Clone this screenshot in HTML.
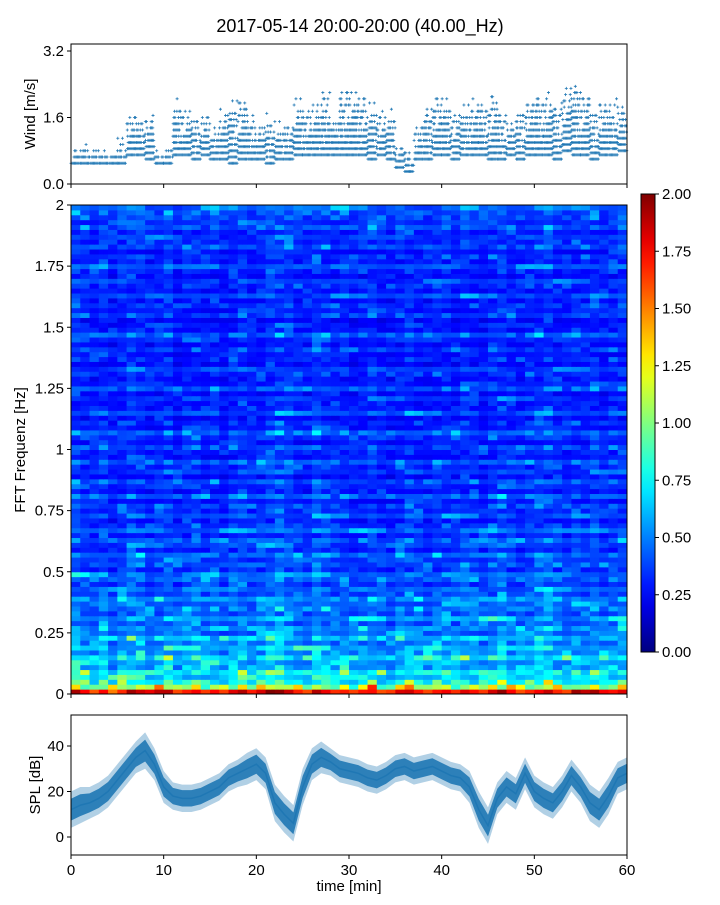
<!DOCTYPE html>
<html><head><meta charset="utf-8"><style>
body{margin:0;background:#fff;}
svg text{font-family:"Liberation Sans","DejaVu Sans",sans-serif;fill:#000;}
</style></head><body>
<svg id="fig" width="720" height="900" xmlns="http://www.w3.org/2000/svg">
<text x="360" y="32" font-size="18" text-anchor="middle">2017-05-14 20:00-20:00 (40.00_Hz)</text>
<g id="wind"></g>
<g id="spec"></g>
<g id="cbar"></g>
<g id="spl"></g>
</svg>
<script>
// ---------- data ----------
const timeTicks=[0,10,20,30,40,50,60];
const windTicks=[0.0,1.6,3.2];
const windTickLabels=["0.0","1.6","3.2"];
const windLo=[.5,.5,.5,.5,.5,.5,.7,.7,.6,.5,.5,.7,.7,.6,.7,.6,.6,.5,.6,.6,.6,.5,.6,.6,.7,.7,.7,.7,.7,.7,.7,.7,.6,.7,.6,.4,.3,.6,.6,.7,.7,.6,.7,.7,.7,.6,.6,.7,.6,.7,.7,.7,.6,.8,.7,.7,.6,.7,.7,.8];
const windHi=[.9,1.0,.9,.9,.9,1.2,1.9,1.8,1.9,.9,1.0,2.2,2.0,1.8,1.9,1.5,2.0,2.3,2.3,1.9,1.6,1.8,1.6,1.7,2.2,2.1,2.2,2.5,1.8,2.6,2.5,2.4,2.2,2.0,1.9,1.0,.9,1.6,2.1,2.4,2.3,2.0,2.1,2.3,2.2,2.5,2.0,1.6,2.0,2.3,2.5,2.5,2.2,2.6,2.8,2.5,2.0,2.2,2.2,2.1];
const freqTicks=[0,0.25,0.5,0.75,1,1.25,1.5,1.75,2];
const freqTickLabels=["0","0.25","0.5","0.75","1","1.25","1.5","1.75","2"];
const specRows=[1.75,1.1,0.8,0.7,0.78,0.6,0.58,0.72,0.55,0.62,0.5,0.64,0.47,0.55,0.44,0.58,0.42,0.5,0.46,0.55,
0.4,0.47,0.36,0.45,0.5,0.34,0.42,0.38,0.48,0.32,0.4,0.44,0.31,0.47,0.36,0.29,0.42,0.34,0.39,0.3,
0.45,0.29,0.34,0.41,0.27,0.38,0.33,0.44,0.29,0.32,0.4,0.28,0.35,0.47,0.3,0.33,0.26,0.42,0.31,0.29,
0.36,0.27,0.43,0.31,0.28,0.34,0.39,0.26,0.32,0.29,0.37,0.27,0.33,0.45,0.29,0.31,0.25,0.38,0.3,0.35,
0.28,0.41,0.29,0.33,0.37,0.27,0.32,0.43,0.3,0.35,0.29,0.4,0.33,0.37,0.31,0.42,0.35,0.39,0.41,0.46];
const specCols=[1.1,1.0,0.95,1.05,0.9,1.0,1.1,1.05,0.95,1.0,1.08,0.92,1.0,1.04,0.96,1.02,0.9,1.0,1.06,0.95,
1.0,1.1,1.15,1.08,1.0,0.95,1.12,1.05,0.98,1.0,0.92,0.97,1.03,0.95,0.9,1.0,1.05,0.98,0.94,1.0,
1.02,0.96,1.05,1.0,0.93,1.04,1.1,0.98,0.95,1.0,1.06,1.12,1.0,0.96,1.02,0.98,1.04,0.95,1.0,1.05];
const specTexture=[1.0,0.6,1.3,0.8,1.9,0.7,1.1,0.5,1.4,0.9,0.65,1.6,0.75,1.2,0.55,1.0,2.1,0.7,0.85,1.35,0.6,1.05,0.8,1.5,0.7,0.95,1.25,0.5,1.75,0.9,0.65,1.1,0.8,1.45,0.6,1.0,0.85];
const cbarTicks=[0,0.25,0.5,0.75,1,1.25,1.5,1.75,2];
const cbarTickLabels=["0.00","0.25","0.50","0.75","1.00","1.25","1.50","1.75","2.00"];
const splTicks=[0,20,40];
const splMean=[12,14,15,17,20,25,30,35,38,32,22,18,17,17,18,20,22,26,28,30,32,28,15,10,6,22,32,35,33,30,29,28,26,25,27,30,31,29,30,31,29,27,26,22,12,5,17,22,19,28,20,17,15,20,27,22,15,12,18,26,28];
const splSpread=[8,8,7,7,7,7,7,7,8,7,7,6,6,6,6,6,6,6,6,7,7,7,8,8,8,8,7,7,6,6,6,6,6,6,6,6,6,6,6,6,6,6,6,7,8,8,7,7,7,7,7,7,7,7,7,7,8,8,8,7,7];
</script>
<script>
const NS="http://www.w3.org/2000/svg";
function mk(parent,tag,attrs,text){const e=document.createElementNS(NS,tag);for(const k in attrs)e.setAttribute(k,attrs[k]);if(text!==undefined)e.textContent=text;parent.appendChild(e);return e;}
const X0=71,X1=627;
const xs=t=>X0+(X1-X0)*t/60;
function jet(v){v=Math.max(0,Math.min(1,v));
 const f=x=>Math.max(0,Math.min(1,x));
 const r=f(1.5-Math.abs(4*v-3)),g=f(1.5-Math.abs(4*v-2)),b=f(1.5-Math.abs(4*v-1));
 return `rgb(${Math.round(r*255)},${Math.round(g*255)},${Math.round(b*255)})`;}
function frame(g,y0,y1){const r=mk(g,'rect',{x:X0,y:y0,width:X1-X0,height:y1-y0,fill:'none',stroke:'#000','stroke-width':1});}
function xticks(g,y1,labels){timeTicks.forEach(t=>{const x=xs(t);mk(g,'line',{x1:x,x2:x,y1:y1,y2:y1+4,stroke:'#000'});
 if(labels){const tx=mk(g,'text',{x:x,y:y1+20,'font-size':15,'text-anchor':'middle'},String(t));}});}
function ylabel(g,x,y,s){const t=mk(g,'text',{x:x,y:y,'font-size':15,'text-anchor':'middle',transform:`rotate(-90 ${x} ${y})`},s);}

// ---- wind ----
(function(){const g=document.getElementById('wind');const Y0=44,Y1=184;const ys=v=>Y1-v*(184-51)/3.2;
 for(let m=0;m<60;m++){for(let k=0;k<8;k++){
  let li=0;
  for(let v=windLo[m];v<=windHi[m]+1e-6;v+=0.15,li++){
   const frac=(v-windLo[m])/Math.max(0.2,windHi[m]-windLo[m]);
   const tv=specTexture[(m*5+k*3+li*7)%specTexture.length];
   if(tv*(1.2-frac)<0.55) continue;
   const x=xs(m+(k+((li*3+m)%5)/5)/8);
   const p=mk(g,'path',{d:`M${x-1.5},${ys(v)}h3M${x},${ys(v)-1.5}v3`,stroke:'#1f77b4','stroke-width':0.8});
   }}}
 frame(g,Y0,Y1);xticks(g,Y1,false);
 windTicks.forEach((v,i)=>{const y=ys(v);mk(g,'line',{x1:X0-4,x2:X0,y1:y,y2:y,stroke:'#000'});
  const t=mk(g,'text',{x:X0-7,y:y+5,'font-size':15,'text-anchor':'end'},windTickLabels[i]);});
 ylabel(g,35,114,'Wind [m/s]');})();

// ---- spectrogram ----
(function(){const g=document.getElementById('spec');const Y0=205,Y1=694;const ys=f=>Y1-(Y1-Y0)*f/2;
 const nr=specRows.length,nc=specCols.length*2;const df=2/nr;const T=specTexture.length;
 for(let i=0;i<nr;i++)for(let j=0;j<nc;j++){
  let tex=specTexture[(i*13+(j>>2)*7+((i*(j>>1))%3))%T];
  tex=i<1?0.9+0.1*tex:0.55+0.45*tex;
  const v=specRows[i]*specCols[j>>1]*tex;
  const r=mk(g,'rect',{x:xs(j*60/nc),y:ys((i+1)*df),width:(X1-X0)/nc+0.5,height:ys(0)-ys(df)+0.5,fill:jet(v/2)});
  }
 frame(g,Y0,Y1);xticks(g,Y1,false);
 freqTicks.forEach((f,i)=>{const y=ys(f);mk(g,'line',{x1:X0-4,x2:X0,y1:y,y2:y,stroke:'#000'});
  const t=mk(g,'text',{x:X0-7,y:y+5,'font-size':15,'text-anchor':'end'},freqTickLabels[i]);});
 ylabel(g,25,450,'FFT Frequenz [Hz]');})();

// ---- colorbar ----
(function(){const g=document.getElementById('cbar');const Y0=194,Y1=652,x=641,w=14;
 const defs=mk(g,'defs',{});const lg=mk(defs,'linearGradient',{id:'jetg',x1:0,y1:1,x2:0,y2:0});
 for(let k=0;k<=20;k++)mk(lg,'stop',{offset:k/20,'stop-color':jet(k/20)});
 const r=mk(g,'rect',{x:x,y:Y0,width:w,height:Y1-Y0,fill:'url(#jetg)',stroke:'#000','stroke-width':1});
 
 cbarTicks.forEach((v,i)=>{const y=Y1-(Y1-Y0)*v/2;mk(g,'line',{x1:x+w,x2:x+w+4,y1:y,y2:y,stroke:'#000'});
  const t=mk(g,'text',{x:x+w+7,y:y+5,'font-size':15},cbarTickLabels[i]);});})();

// ---- SPL ----
(function(){const g=document.getElementById('spl');const Y0=715,Y1=855;const ys=v=>837-v*45.5/20;
 const n=splMean.length;const tx=i=>xs(i*60/(n-1));
 let up=[],dn=[],ln=[];for(let i=0;i<n;i++){up.push(`${tx(i)},${ys(splMean[i]+splSpread[i])}`);dn.unshift(`${tx(i)},${ys(splMean[i]-splSpread[i])}`);ln.push(`${tx(i)},${ys(splMean[i])}`);}
 const b=mk(g,'polygon',{points:up.concat(dn).join(' '),fill:'#1f77b4','fill-opacity':0.35});
 let in1=[],in2=[];for(let i=0;i<n;i++){in1.push(`${tx(i)},${ys(splMean[i]+splSpread[i]*0.6)}`);in2.unshift(`${tx(i)},${ys(splMean[i]-splSpread[i]*0.6)}`);}
 const c=mk(g,'polygon',{points:in1.concat(in2).join(' '),fill:'#1f77b4','fill-opacity':0.9});
 const l=mk(g,'polyline',{points:ln.join(' '),fill:'none',stroke:'#1f77b4','stroke-width':1.5});
 frame(g,Y0,Y1);xticks(g,Y1,true);
 splTicks.forEach(v=>{const y=ys(v);mk(g,'line',{x1:X0-4,x2:X0,y1:y,y2:y,stroke:'#000'});
  const t=mk(g,'text',{x:X0-7,y:y+5,'font-size':15,'text-anchor':'end'},String(v));});
 ylabel(g,40,785,'SPL [dB]');
 const xt=mk(g,'text',{x:349,y:891,'font-size':15,'text-anchor':'middle'},'time [min]');})();
</script>
</body></html>
